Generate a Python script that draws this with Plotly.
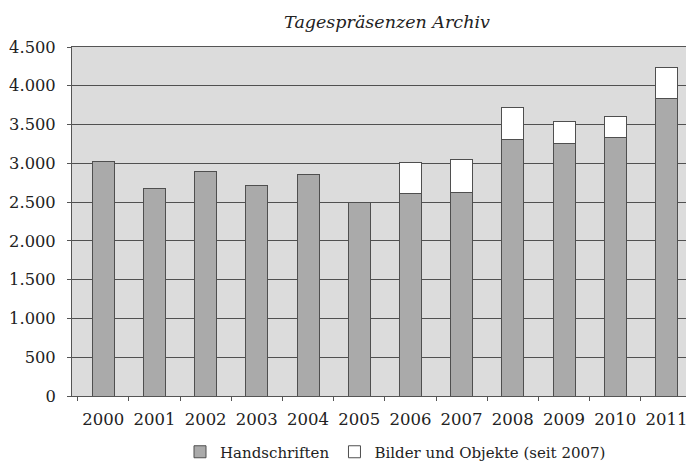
import plotly.graph_objects as go

years = ["2000", "2001", "2002", "2003", "2004", "2005", "2006", "2007", "2008", "2009", "2010", "2011"]
handschriften = [3020, 2670, 2895, 2710, 2860, 2490, 2610, 2630, 3310, 3250, 3335, 3830]
bilder = [None, None, None, None, None, None, 400, 420, 410, 285, 275, 400]
y_ticks = [0, 500, 1000, 1500, 2000, 2500, 3000, 3500, 4000, 4500]
y_labels = ["0", "500", "1.000", "1.500", "2.000", "2.500", "3.000", "3.500", "4.000", "4.500"]

FONT = "DejaVu Serif"
# the page body has an 8px default margin; figure is sized to fill the rest
W, H = 686, 468
L, R, T, B = 64, 2, 39, 80
PW, PH = W - L - R, H - T - B

fig = go.Figure()
fig.add_trace(go.Bar(
    x=years, y=handschriften, name="Handschriften",
    marker=dict(color="#aaaaaa", line=dict(color="#4f4f4f", width=1)),
    width=0.43,
))
fig.add_trace(go.Bar(
    x=years, y=bilder, name="Bilder und Objekte (seit 2007)",
    marker=dict(color="#ffffff", line=dict(color="#4f4f4f", width=1)),
    width=0.43,
))

fig.update_layout(
    width=W, height=H,
    barmode="stack",
    paper_bgcolor="white",
    plot_bgcolor="#dcdcdc",
    margin=dict(l=L, r=R, t=T, b=B, autoexpand=False),
    font=dict(family=FONT, size=15, color="#222"),
    title=dict(text="<i>Tagespräsenzen Archiv</i>", x=(387 - 8) / W, xanchor="center",
               y=1 - 14 / H, yanchor="middle", font=dict(family=FONT, size=17.5, color="#222")),
    showlegend=True,
    legend=dict(orientation="h", x=(172 - 64) / PW, xanchor="left", y=-(452 - 396) / PH, yanchor="middle",
                font=dict(family=FONT, size=15, color="#222"), itemwidth=30,
                traceorder="normal"),
    xaxis=dict(
        type="category", range=[-0.61, 11.5], automargin=False,
        showgrid=False, ticks="outside", tickson="boundaries", ticklen=4,
        tickcolor="#555", showline=True, linecolor="#555", linewidth=1, mirror=True,
        tickfont=dict(family=FONT, size=16.5, color="#222"),
        ticklabelstandoff=8,
    ),
    yaxis=dict(
        range=[0, 4500], tickvals=y_ticks, ticktext=y_labels, automargin=False,
        showgrid=True, gridcolor="#505050", gridwidth=1,
        ticks="outside", ticklen=4, tickcolor="#555",
        showline=True, linecolor="#555", linewidth=1, mirror=True,
        zeroline=False,
        tickfont=dict(family=FONT, size=16.3, color="#222"),
        ticklabelstandoff=8,
    ),
)

fig.write_html("out.html")
